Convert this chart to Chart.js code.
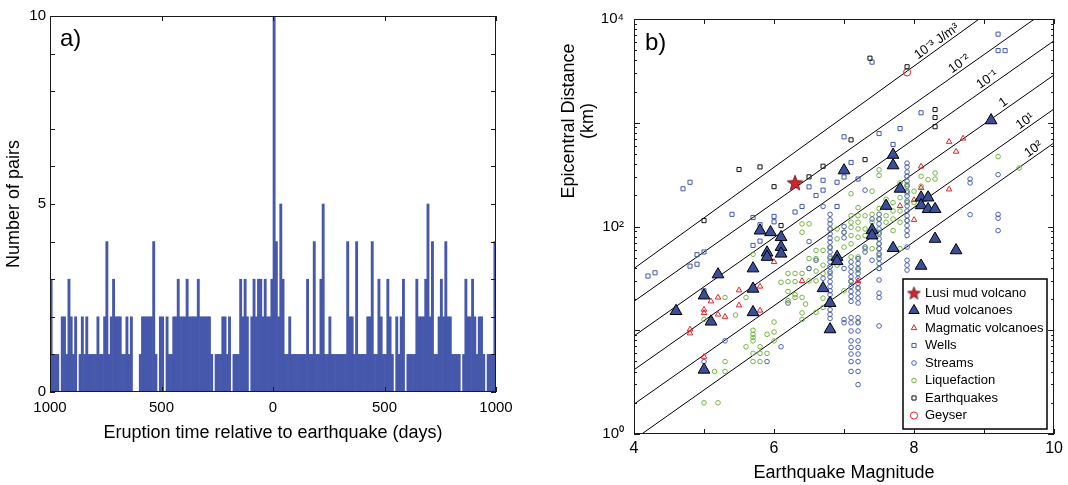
<!DOCTYPE html>
<html>
<head>
<meta charset="utf-8">
<script src="https://cdn.jsdelivr.net/npm/chart.js@4.4.1/dist/chart.umd.min.js"></script>
<style>
  html, body { margin: 0; padding: 0; background: #fff; }
  #wrap { position: relative; width: 1068px; height: 485px; }
  #boxA { position: absolute; left: 0; top: 0; width: 560px; height: 485px; }
  #boxB { position: absolute; left: 560px; top: 0; width: 508px; height: 485px; }
</style>
</head>
<body>
<div id="wrap">
  <div id="boxA"><canvas id="chartA"></canvas></div>
  <div id="boxB"><canvas id="chartB"></canvas></div>
</div>
<script>
// ---- panel a: histogram of eruption time relative to earthquake (10-day bins) ----
const binStart = -1000;
const binWidth = 10;
const pairCounts = [
  3,1,1,1,0,2,2,1,3,2,  1,2,0,1,2,1,2,1,1,1,  1,2,1,1,2,4,1,2,3,2,  2,2,1,1,2,1,2,0,0,0,
  1,2,2,2,2,2,4,1,0,2,  2,0,2,1,1,2,2,3,2,2,  2,3,2,2,2,2,3,2,2,2,  2,2,1,0,1,1,1,2,2,1,
  2,0,1,1,1,3,2,3,2,0,  2,3,2,3,3,2,3,2,2,3,  10,4,2,5,3,1,1,2,1,1, 1,1,1,1,1,3,1,1,4,1,
  1,3,5,1,1,2,1,1,1,1,  1,1,1,4,2,2,1,4,1,1,  1,1,2,2,4,1,1,3,2,1,  1,3,2,1,0,2,1,2,3,0,
  1,1,1,1,3,2,2,2,3,5,  2,4,1,1,2,3,2,4,2,2,  1,1,1,1,0,1,3,2,2,3,  2,1,2,2,1,0,1,1,1,4
];
const dayTicks = [-1000, -500, 0, 500, 1000];
const pairTicks = [0, 1, 2, 3, 4, 5, 6, 7, 8, 9, 10];

// ---- panel b: magnitude [M] vs epicentral distance [km] ----
const lusiVolcano = [[6.3, 264]];
const mudVolcanoes = [
  [4.6,15.3],[5.0,21.6],[5.0,4.16],[5.1,12.1],[5.2,34.5],[5.7,39.4],[5.7,25.1],[5.7,14.9],
  [5.8,91.3],[5.9,56.0],[5.9,50.9],[5.95,88.0],[6.1,78.9],[6.1,63.4],[6.1,54.7],[6.7,25.4],
  [6.8,18.3],[6.8,10.2],[6.9,50.9],[6.9,46.3],[7.0,347],[7.4,92.6],[7.4,81.8],[7.6,158],
  [7.7,490],[7.7,388],[7.7,62.0],[7.8,231],[8.1,190],[8.1,160],[8.1,41.8],[8.2,190],
  [8.2,147],[8.3,147],[8.3,76.0],[8.6,58.9],[9.1,1054]
];
const magmaticVolcanoes = [
  [4.8,10.2],[4.8,9.35],[5.0,15.8],[5.0,14.7],[5.1,19.0],[5.2,20.7],[5.2,14.2],[5.3,13.5],
  [5.5,24.3],[5.5,17.4],[5.8,26.4],[5.8,15.5],[5.0,5.56],[6.0,45.6],[6.4,29.9],[7.2,29.9],
  [7.8,158],[8.0,180],[8.0,116],[8.1,379],[8.1,236],[8.5,656],[8.6,527],[8.7,706],[8.5,228]
];
const wells = [
  [4.2,33.3],[4.3,35.8],[4.7,231],[4.8,267],[4.8,41.5],[4.9,43.3],[4.9,53.5],[5.0,56.8],
  [5.0,24.0],[5.4,131],[5.7,122],[5.8,104],[5.8,72.3],[5.7,65.7],[6.0,125],[6.0,111],
  [6.3,138],[6.4,156],[6.6,199],[6.7,224],[6.7,279],[6.5,241],[6.9,267],[6.9,156],
  [7.0,732],[7.0,300],[7.1,414],[7.2,287],[7.4,3840],[7.5,787],[7.7,618],[7.8,879],
  [8.1,1247],[9.2,7145],[9.2,4960],[9.3,4960]
];
const streams = [
  [5.0,4.99],[5.3,7.90],[5.9,4.99],[6.1,6.93],[6.2,18.3],[6.5,71.7],[6.5,39.4],[6.6,47.3],
  [6.7,156],[6.7,31.7],[7.0,100],[7.0,88.0],[7.0,77.8],[7.0,39.4],[7.0,12.7],[7.0,11.8],
  [7.3,224],[7.3,63.4],[7.3,56.8],[7.4,118],[7.4,47.3],[7.5,11.0],[7.9,63.4],[7.9,47.3],
  [7.9,42.4],[7.9,38.0],[8.8,287],[8.8,263],[8.8,130],[9.2,316],[9.2,131],[9.2,120],[9.2,91.3],
  [6.8,131],[6.8,116],[6.8,106],[6.8,94.7],[6.8,84.9],[6.8,77.2],[6.8,70.7],[6.8,63.4],
  [6.8,56.8],[6.8,50.9],[6.8,45.6],[6.8,40.9],[6.8,36.6],[6.8,32.8],[6.8,29.4],[6.8,26.4],
  [6.8,24.0],[6.8,22.0],[6.8,19.7],[6.8,15.8],[6.8,14.2],[6.8,13.0],
  [7.1,45.6],[7.1,40.9],[7.1,36.6],[7.1,32.8],[7.1,29.4],[7.1,26.4],[7.1,23.6],[7.1,21.2],
  [7.1,19.0],[7.1,13.2],[7.1,11.8],[7.1,9.84],[7.1,7.90],[7.1,6.83],[7.1,5.90],[7.1,4.99],[7.1,4.01],
  [7.2,49.1],[7.2,44.0],[7.2,39.4],[7.2,35.3],[7.2,31.7],[7.2,28.4],[7.2,25.4],[7.2,22.8],
  [7.2,20.4],[7.2,18.3],[7.2,13.2],[7.2,11.8],[7.2,9.84],[7.2,7.90],[7.2,6.83],[7.2,5.90],
  [7.2,4.99],[7.2,4.01],[7.2,2.99],
  [7.5,131],[7.5,118],[7.5,106],[7.5,94.7],[7.5,84.9],[7.5,76.0],[7.5,68.1],[7.5,61.1],
  [7.5,54.7],[7.5,49.1],[7.5,44.0],[7.5,39.4],[7.5,30.5],[7.5,22.8],[7.5,20.7],
  [7.9,408],[7.9,374],[7.9,335],[7.9,305],[7.9,273],[7.9,245],[7.9,219],[7.9,197],
  [7.9,176],[7.9,158],[7.9,141],[7.9,127],[7.9,114],[7.9,102],[7.9,91.3],[7.9,81.8]
];
const liquefaction = [
  [5.0,12.7],[5.15,4.01],[5.3,20.7],[5.3,4.99],[5.3,4.01],[5.0,2.0],[5.2,2.0],[5.45,14.0],
  [5.6,20.7],[5.6,6.93],[5.7,54.0],[5.7,9.98],[5.7,9.14],[5.7,8.50],[5.7,7.90],[5.7,5.99],
  [5.7,4.99],[5.8,6.93],[5.8,5.99],[5.8,4.99],[5.9,9.14],[5.9,5.99],[6.0,12.0],[6.0,9.62],
  [6.0,7.90],[6.1,29.0],[6.2,35.3],[6.2,29.4],[6.2,23.6],[6.2,19.3],[6.3,35.3],[6.3,29.4],
  [6.3,22.0],[6.3,20.7],[6.4,106],[6.4,88.0],[6.4,35.3],[6.4,20.7],[6.4,14.7],[6.4,12.7],
  [6.45,17.9],[6.5,106],[6.5,49.1],[6.5,39.4],[6.5,29.9],[6.6,58.9],[6.6,49.1],[6.6,37.2],
  [6.6,29.9],[6.6,14.9],[6.7,58.9],[6.7,42.4],[6.7,35.3],[6.7,20.4],[6.7,16.6],[6.8,94.7],
  [6.8,62.0],[6.8,49.1],[6.8,40.9],[6.8,35.3],[6.9,94.7],[6.9,76.0],[6.9,49.1],[6.9,42.4],
  [7.0,88.0],[7.0,63.4],[7.0,24.0],[7.1,207],[7.1,127],[7.1,110],[7.1,98.2],[7.1,81.8],
  [7.1,68.1],[7.1,50.9],[7.1,29.9],[7.2,152],[7.2,127],[7.2,110],[7.2,94.7],[7.2,78.9],
  [7.2,50.9],[7.2,38.0],[7.2,25.8],[7.2,12.0],[7.3,127],[7.3,94.7],[7.3,81.8],[7.3,61.1],
  [7.4,219],[7.4,131],[7.4,110],[7.4,81.8],[7.4,61.1],[7.5,352],[7.5,311],[7.5,149],
  [7.5,118],[7.5,88.0],[7.5,68.1],[7.5,61.1],[7.5,52.8],[7.5,39.4],[7.6,183],[7.6,152],
  [7.6,127],[7.6,110],[7.7,170],[7.7,141],[7.7,118],[7.7,91.3],[7.8,263],[7.8,190],
  [7.8,141],[7.8,110],[7.8,61.1],[7.9,305],[7.9,254],[7.9,211],[7.9,170],[7.9,114],
  [8.0,219],[8.0,170],[8.1,305],[8.1,245],[8.1,170],[8.2,283],[8.2,204],[8.3,328],
  [8.3,287],[9.2,472],[9.5,366]
];
const earthquakes = [
  [5.5,354],[5.8,375],[5.0,114],[6.0,242],[6.5,301],[6.7,381],[6.1,102],[7.1,684],
  [7.3,441],[7.37,4190],[7.9,3465],[8.3,1340],[8.3,1124],[8.3,916]
];
const geyser = [[7.9,3060]];

// energy density lines, end points [M, km]
const energyLevels = ['10\u207B\u00B3 J/m\u00B3', '10\u207B\u00B2', '10\u207B\u00B9', '1', '10\u00B9', '10\u00B2'];
const energyLineStart = [[4,39.4],[4,19.0],[4,8.81],[4,4.16],[4,1.94],[4.11,1]];
const energyLineEnd = [[8.93,10000],[9.72,10000],[10,6180],[10,2890],[10,1360],[10,641]];
const energyTagM = [8.38, 8.7, 9.1, 9.33, 9.64, 9.76];

const magTicks = [4, 5, 6, 7, 8, 9, 10];
const distTickLabels = { 1: '10\u2070', 100: '10\u00B2', 10000: '10\u2074' };

const FONT = "'Liberation Sans', Arial, Helvetica, sans-serif";
Chart.defaults.font.family = FONT;
Chart.defaults.color = '#000';

const toXY = list => list.map(p => ({ x: p[0], y: p[1] }));

// inward MATLAB-style ticks and a box around the plot area
const frameTicks = {
  id: 'frameTicks',
  afterDatasetsDraw(chart, args, opts) {
    const { ctx, chartArea: a, scales: { x, y } } = chart;
    ctx.save();
    ctx.strokeStyle = '#1a1a1a';
    ctx.lineWidth = 1;
    ctx.beginPath();
    opts.xTicks.forEach(t => {
      const px = Math.round(x.getPixelForValue(t[0])) + 0.5;
      ctx.moveTo(px, a.bottom); ctx.lineTo(px, a.bottom - t[1]);
      ctx.moveTo(px, a.top); ctx.lineTo(px, a.top + t[1]);
    });
    opts.yTicks.forEach(t => {
      const py = Math.round(y.getPixelForValue(t[0])) + 0.5;
      ctx.moveTo(a.left, py); ctx.lineTo(a.left + t[1], py);
      ctx.moveTo(a.right, py); ctx.lineTo(a.right - t[1], py);
    });
    ctx.stroke();
    ctx.strokeRect(Math.round(a.left) + 0.5, Math.round(a.top) + 0.5, Math.round(a.width) - 1, Math.round(a.height) - 1);
    ctx.font = '24px ' + FONT;
    ctx.fillStyle = '#000';
    ctx.textBaseline = 'alphabetic';
    ctx.fillText(opts.tag, a.left + opts.tagDx, a.top + opts.tagDy);
    ctx.restore();
  }
};

// ---- chart a ----
new Chart(document.getElementById('chartA'), {
  type: 'bar',
  data: {
    datasets: [{
      label: 'Number of pairs',
      data: pairCounts.map((v, i) => ({ x: binStart + binWidth * (i + 0.5), y: v })),
      backgroundColor: '#4658ab',
      borderWidth: 0,
      barPercentage: 1,
      categoryPercentage: 1
    }]
  },
  options: {
    responsive: true,
    maintainAspectRatio: false,
    animation: false,
    layout: { padding: { top: 16, right: 64, left: 0, bottom: 0 } },
    plugins: {
      legend: { display: false },
      tooltip: { enabled: false },
      frameTicks: {
        xTicks: dayTicks.map(v => [v, 5]),
        yTicks: pairTicks.map(v => [v, 5]),
        tag: 'a)', tagDx: 10, tagDy: 30
      }
    },
    scales: {
      x: {
        type: 'linear', min: -1000, max: 1000, offset: false,
        grid: { display: false, drawTicks: false },
        border: { display: false },
        ticks: { stepSize: 500, padding: 7, font: { size: 15 }, callback: v => Math.abs(v) },
        title: { display: true, text: 'Eruption time relative to earthquake (days)', font: { size: 18 }, padding: { top: 0, bottom: 41 } },
        afterFit: s => { s.height = 93; }
      },
      y: {
        min: 0, max: 10,
        grid: { display: false, drawTicks: false },
        border: { display: false },
        ticks: { stepSize: 1, padding: 4, font: { size: 15 }, callback: v => (v % 5 === 0 ? v : '') },
        title: { display: true, text: 'Number of pairs', font: { size: 18 }, padding: { top: 3, bottom: 0 } },
        afterFit: s => { s.width = 50; }
      }
    }
  },
  plugins: [frameTicks]
});

// ---- chart b ----
function starImage(size, fill, stroke) {
  const c = document.createElement('canvas');
  c.width = size; c.height = size;
  const g = c.getContext('2d');
  const cx = size / 2, cy = size / 2 + 0.6, R = size / 2 - 0.8, r = R * 0.42;
  g.beginPath();
  for (let k = 0; k < 10; k++) {
    const ang = -Math.PI / 2 + k * Math.PI / 5;
    const rr = k % 2 ? r : R;
    g.lineTo(cx + rr * Math.cos(ang), cy + rr * Math.sin(ang));
  }
  g.closePath();
  g.fillStyle = fill; g.fill();
  g.strokeStyle = stroke; g.lineWidth = 0.8; g.stroke();
  return c;
}

const lusiStar = starImage(18, '#d7232b', '#5a1010');
const lusiStarSmall = starImage(15, '#d7232b', '#5a1010');

const pointSets = [
  { label: 'Lusi mud volcano', data: toXY(lusiVolcano), pointStyle: lusiStar, legendStyle: lusiStarSmall,
    pointRadius: 8, backgroundColor: '#d7232b', borderColor: '#5a1010', borderWidth: 1, order: 0 },
  { label: 'Mud volcanoes', data: toXY(mudVolcanoes), pointStyle: 'triangle',
    pointRadius: 6.8, legendRadius: 6, backgroundColor: '#3a4f9c', borderColor: '#000', borderWidth: 1, order: 1 },
  { label: 'Magmatic volcanoes', data: toXY(magmaticVolcanoes), pointStyle: 'triangle',
    pointRadius: 3.2, backgroundColor: 'rgba(0,0,0,0)', borderColor: '#e3232b', borderWidth: 1, order: 3 },
  { label: 'Wells', data: toXY(wells), pointStyle: 'rect',
    pointRadius: 2.9, backgroundColor: 'rgba(0,0,0,0)', borderColor: '#3f58b4', borderWidth: 1, order: 4 },
  { label: 'Streams', data: toXY(streams), pointStyle: 'circle',
    pointRadius: 2.3, backgroundColor: 'rgba(0,0,0,0)', borderColor: '#4a60b8', borderWidth: 1, order: 5 },
  { label: 'Liquefaction', data: toXY(liquefaction), pointStyle: 'circle',
    pointRadius: 2.3, backgroundColor: 'rgba(0,0,0,0)', borderColor: '#72b83c', borderWidth: 1, order: 6 },
  { label: 'Earthquakes', data: toXY(earthquakes), pointStyle: 'rect',
    pointRadius: 2.9, backgroundColor: 'rgba(0,0,0,0)', borderColor: '#111', borderWidth: 1, order: 2 },
  { label: 'Geyser', data: toXY(geyser), pointStyle: 'circle',
    pointRadius: 3.6, backgroundColor: 'rgba(0,0,0,0)', borderColor: '#e3232b', borderWidth: 1, order: 2 }
];
pointSets.forEach(d => { d.inLegend = true; d.pointHoverRadius = d.pointRadius; });

const lineSets = energyLevels.map((name, k) => ({
  type: 'line',
  label: name,
  data: toXY([energyLineStart[k], energyLineEnd[k]]),
  borderColor: '#000',
  borderWidth: 1,
  pointRadius: 0,
  fill: false,
  order: 10
}));

const energyTags = {
  id: 'energyTags',
  afterDatasetsDraw(chart) {
    const { ctx, scales: { x, y } } = chart;
    ctx.save();
    ctx.font = '13px ' + FONT;
    ctx.fillStyle = '#000';
    ctx.textAlign = 'center';
    ctx.textBaseline = 'alphabetic';
    energyLevels.forEach((txt, k) => {
      const x0 = x.getPixelForValue(energyLineStart[k][0]), y0 = y.getPixelForValue(energyLineStart[k][1]);
      const x1 = x.getPixelForValue(energyLineEnd[k][0]), y1 = y.getPixelForValue(energyLineEnd[k][1]);
      const t = (x.getPixelForValue(energyTagM[k]) - x0) / (x1 - x0);
      ctx.save();
      ctx.translate(x0 + t * (x1 - x0), y0 + t * (y1 - y0));
      ctx.rotate(Math.atan2(y1 - y0, x1 - x0));
      ctx.fillText(txt, 0, -3);
      ctx.restore();
    });
    ctx.restore();
  }
};

const cornerLegend = {
  id: 'cornerLegend',
  afterDraw(chart) {
    const { ctx, chartArea: a } = chart;
    const w = 144, h = 150;
    const x0 = Math.round(a.right - 7 - w), y0 = Math.round(a.bottom - 5 - h);
    ctx.save();
    ctx.fillStyle = '#fff';
    ctx.fillRect(x0, y0, w, h);
    ctx.strokeStyle = '#000';
    ctx.lineWidth = 1.5;
    ctx.strokeRect(x0, y0, w, h);
    chart.data.datasets.filter(d => d.inLegend).forEach((d, k) => {
      const cy = y0 + 14 + k * 17.5;
      ctx.fillStyle = d.backgroundColor;
      ctx.strokeStyle = d.borderColor;
      ctx.lineWidth = d.borderWidth;
      Chart.helpers.drawPoint(ctx, {
        pointStyle: d.legendStyle || d.pointStyle,
        radius: d.legendRadius || d.pointRadius,
        borderWidth: d.borderWidth,
        rotation: 0
      }, x0 + 11, cy);
      ctx.fillStyle = '#000';
      ctx.font = '13px ' + FONT;
      ctx.textBaseline = 'middle';
      ctx.textAlign = 'left';
      ctx.fillText(d.label, x0 + 22, cy);
    });
    ctx.restore();
  }
};

const sideTitle = {
  id: 'sideTitle',
  afterDraw(chart) {
    const { ctx } = chart;
    ctx.save();
    ctx.font = '18px ' + FONT;
    ctx.fillStyle = '#000';
    ctx.textAlign = 'center';
    ctx.textBaseline = 'middle';
    [['Epicentral Distance', 9], ['(km)', 28.5]].forEach(([txt, cx]) => {
      ctx.save();
      ctx.translate(cx, 121);
      ctx.rotate(-Math.PI / 2);
      ctx.fillText(txt, 0, 0);
      ctx.restore();
    });
    ctx.restore();
  }
};

const distTicks = [];
[1, 10, 100, 1000].forEach(dec => {
  for (let m = 1; m < 10; m++) distTicks.push([m * dec, m === 1 ? 6 : 3]);
});
distTicks.push([10000, 6]);

new Chart(document.getElementById('chartB'), {
  type: 'scatter',
  data: { datasets: pointSets.concat(lineSets) },
  options: {
    responsive: true,
    maintainAspectRatio: false,
    animation: false,
    layout: { padding: { top: 14, right: 13, left: 0, bottom: 0 } },
    plugins: {
      legend: { display: false },
      tooltip: { enabled: false },
      frameTicks: {
        xTicks: magTicks.map(v => [v, 5]),
        yTicks: distTicks,
        tag: 'b)', tagDx: 11, tagDy: 31
      }
    },
    scales: {
      x: {
        type: 'linear', min: 4, max: 10,
        grid: { display: false, drawTicks: false },
        border: { display: false },
        ticks: { stepSize: 1, autoSkip: false, padding: 5, font: { size: 16 }, callback: v => (v % 2 === 0 ? v : '') },
        title: { display: true, text: 'Earthquake Magnitude', font: { size: 18 }, padding: { top: 0, bottom: 1 } },
        afterFit: s => { s.height = 51; }
      },
      y: {
        type: 'logarithmic', min: 1, max: 10000,
        grid: { display: false, drawTicks: false },
        border: { display: false },
        ticks: { autoSkip: false, padding: 10, font: { size: 15 }, callback: v => distTickLabels[v] || '' },
        afterFit: s => { s.width = 74; }
      }
    }
  },
  plugins: [frameTicks, energyTags, cornerLegend, sideTitle]
});
</script>
</body>
</html>
